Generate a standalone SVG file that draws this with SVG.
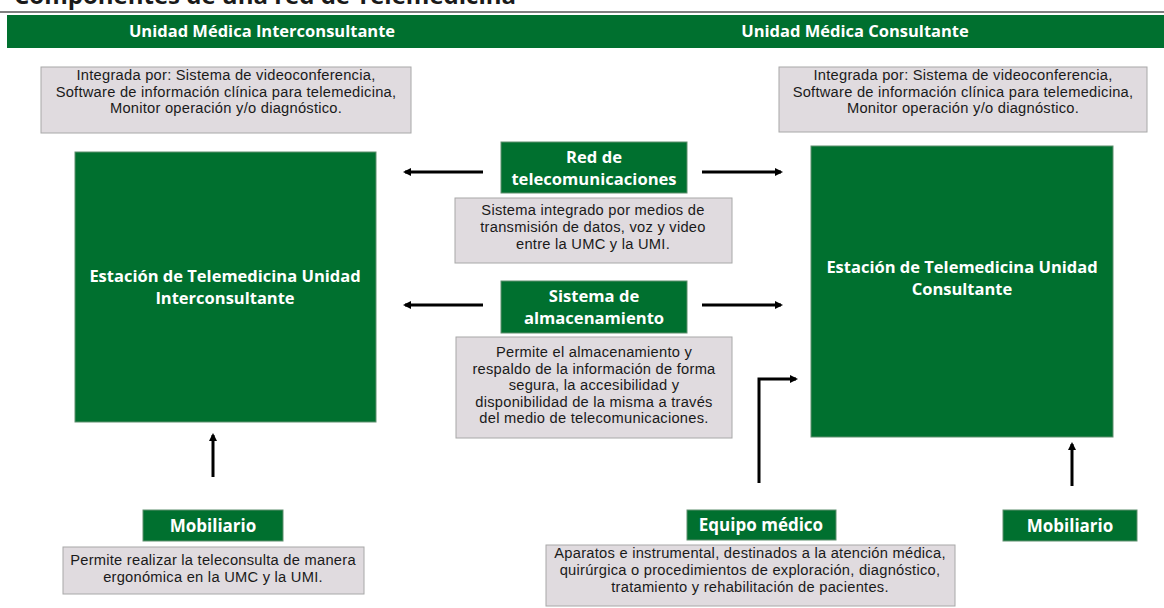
<svg xmlns="http://www.w3.org/2000/svg" width="1164" height="608" viewBox="0 0 1164 608">
<defs>
<marker id="ah" markerWidth="8" markerHeight="8" refX="6" refY="4" orient="auto" markerUnits="userSpaceOnUse" viewBox="0 0 8 8">
<path d="M0,0 L8,4 L0,8 Z" fill="#000"/>
</marker>
</defs>
<style>
.g{fill:#00702f;stroke:#5f8f6f;stroke-width:1}
.d{fill:#e0dbdf;stroke:#a8a8a8;stroke-width:1}
.wt{font-family:"Open Sans","Noto Sans",sans-serif;font-weight:bold;fill:#fff;text-anchor:middle}
.bt{font-family:"Liberation Sans",Arial,sans-serif;fill:#1a1a1a;text-anchor:middle;font-size:14.7px;letter-spacing:0.25px}
.c{stroke:#000;stroke-width:3;fill:none;marker-end:url(#ah)}
</style>
<rect width="1164" height="608" fill="#fff"/>
<g id="title">
<text x="14" y="4" font-family="Open Sans,sans-serif" font-weight="bold" font-size="24" fill="#1a1a1a">Componentes de una red de Telemedicina</text>
<rect x="0" y="11" width="1164" height="2" fill="#808080"/>
</g>
<g id="header">
<rect x="7" y="15" width="1157" height="33" fill="#00702f"/>
<text class="wt" x="262" y="37" font-size="16.5">Unidad Médica Interconsultante</text>
<text class="wt" x="855" y="37" font-size="16.5">Unidad Médica Consultante</text>
</g>
<g id="desc-umi">
<rect class="d" x="41" y="67" width="370" height="66"/>
<text class="bt" x="226" y="80">Integrada por: Sistema de videoconferencia,</text>
<text class="bt" x="226" y="97">Software de información clínica para telemedicina,</text>
<text class="bt" x="226" y="113">Monitor operación y/o diagnóstico.</text>
</g>
<g id="desc-umc">
<rect class="d" x="779" y="67" width="368" height="65"/>
<text class="bt" x="963" y="80">Integrada por: Sistema de videoconferencia,</text>
<text class="bt" x="963" y="97">Software de información clínica para telemedicina,</text>
<text class="bt" x="963" y="113">Monitor operación y/o diagnóstico.</text>
</g>
<g id="station-umi">
<rect class="g" x="75" y="152" width="301" height="270"/>
<text class="wt" x="225" y="282" font-size="16.5">Estación de Telemedicina Unidad</text>
<text class="wt" x="225" y="304" font-size="16.5">Interconsultante</text>
</g>
<g id="station-umc">
<rect class="g" x="811" y="146" width="302" height="291"/>
<text class="wt" x="962" y="273" font-size="16.5">Estación de Telemedicina Unidad</text>
<text class="wt" x="962" y="295" font-size="16.5">Consultante</text>
</g>
<g id="red">
<rect class="g" x="501" y="142" width="186" height="51"/>
<text class="wt" x="594" y="163" font-size="16.6">Red de</text>
<text class="wt" x="594" y="185" font-size="16.6">telecomunicaciones</text>
</g>
<g id="desc-red">
<rect class="d" x="455" y="198" width="277" height="65"/>
<text class="bt" x="593" y="215">Sistema integrado por medios de</text>
<text class="bt" x="593" y="232">transmisión de datos, voz y video</text>
<text class="bt" x="593" y="249">entre la UMC y la UMI.</text>
</g>
<g id="almac">
<rect class="g" x="501" y="281" width="186" height="52"/>
<text class="wt" x="594" y="302" font-size="16.6">Sistema de</text>
<text class="wt" x="594" y="324" font-size="16.6">almacenamiento</text>
</g>
<g id="desc-almac">
<rect class="d" x="456" y="337" width="276" height="101"/>
<text class="bt" x="594" y="357">Permite el almacenamiento y</text>
<text class="bt" x="594" y="373.5">respaldo de la información de forma</text>
<text class="bt" x="594" y="390">segura, la accesibilidad y</text>
<text class="bt" x="594" y="406.5">disponibilidad de la misma a través</text>
<text class="bt" x="594" y="423">del medio de telecomunicaciones.</text>
</g>
<g id="mob-umi">
<rect class="g" x="143" y="510" width="140" height="31"/>
<text class="wt" x="213" y="532" font-size="17">Mobiliario</text>
</g>
<g id="desc-mob">
<rect class="d" x="63" y="547" width="301" height="47"/>
<text class="bt" x="213" y="565">Permite realizar la teleconsulta de manera</text>
<text class="bt" x="213" y="582">ergonómica en la UMC y la UMI.</text>
</g>
<g id="equipo">
<rect class="g" x="687" y="510" width="149" height="30"/>
<text class="wt" x="761" y="531" font-size="17">Equipo médico</text>
</g>
<g id="desc-equipo">
<rect class="d" x="546" y="545" width="409" height="61"/>
<text class="bt" x="750" y="558">Aparatos e instrumental, destinados a la atención médica,</text>
<text class="bt" x="750" y="575">quirúrgica o procedimientos de exploración, diagnóstico,</text>
<text class="bt" x="750" y="592">tratamiento y rehabilitación de pacientes.</text>
</g>
<g id="mob-umc">
<rect class="g" x="1003" y="510" width="134" height="31"/>
<text class="wt" x="1070" y="532" font-size="17">Mobiliario</text>
</g>
<g id="connectors">
<path class="c" d="M483,172 H405"/>
<path class="c" d="M702,172 H781"/>
<path class="c" d="M483,305 H405"/>
<path class="c" d="M702,305 H781"/>
<path class="c" d="M213,477 V435"/>
<path class="c" d="M759,483 V379 H796"/>
<path class="c" d="M1072,486 V444"/>
</g>
</svg>
